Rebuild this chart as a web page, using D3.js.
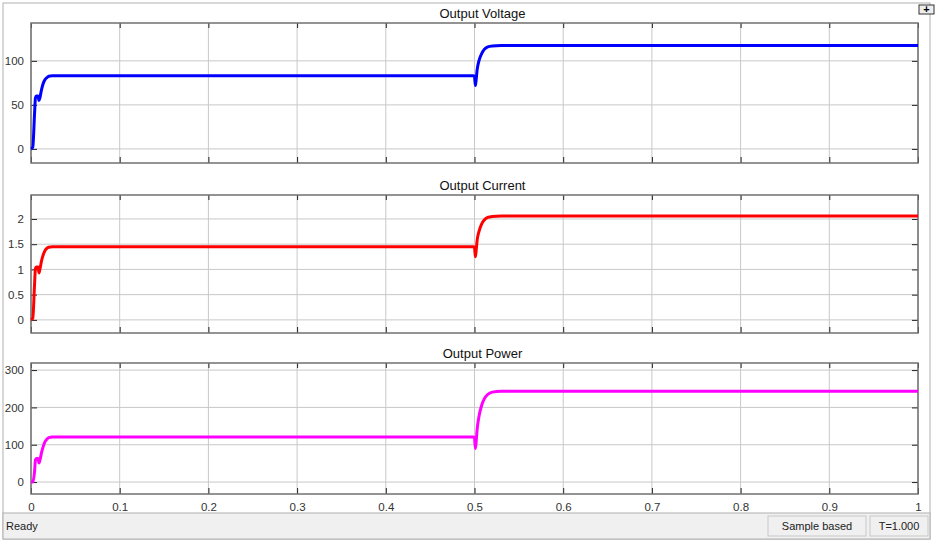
<!DOCTYPE html>
<html>
<head>
<meta charset="utf-8">
<script src="https://cdn.jsdelivr.net/npm/d3@7"></script>
<style>
body { margin: 0; background: #fff; font-family: "Liberation Sans", Arial, sans-serif; }
.grid line { stroke: #c8c8c8; stroke-width: 1; }
.tick text { fill: #333; font-size: 11.5px; }
</style>
</head>
<body>
<div id="scope"></div>
<script>
// scope window size
var svgWidth = 941;
var svgHeight = 541;

// data
var time = [0, 0.002, 0.004, 0.005, 0.006, 0.008, 0.009, 0.010, 0.012, 0.014, 0.016, 0.018, 0.020, 0.024, 0.03,
    0.1, 0.2, 0.3, 0.4, 0.499, 0.500, 0.501, 0.502, 0.503, 0.505, 0.508, 0.511, 0.515, 0.52, 0.53,
    0.6, 0.7, 0.8, 0.9, 1.0];

var voltage = [0, 2, 40, 58, 60, 60, 55, 58, 68, 75, 79, 81, 82.5, 83, 83,
    83, 83, 83, 83, 83, 82, 72, 80, 90, 100, 108, 113, 116, 117, 117.5,
    117.5, 117.5, 117.5, 117.5, 117.5];

var current = [0, 0.03, 0.7, 1.02, 1.05, 1.05, 0.93, 1.0, 1.18, 1.3, 1.38, 1.42, 1.44, 1.45, 1.45,
    1.45, 1.45, 1.45, 1.45, 1.45, 1.43, 1.25, 1.4, 1.58, 1.75, 1.9, 1.98, 2.03, 2.05, 2.06,
    2.06, 2.06, 2.06, 2.06, 2.06];

var power = [0, 0, 28, 59, 63, 63, 51, 58, 80, 97, 109, 115, 119, 121, 121,
    121, 121, 121, 121, 121, 118, 90, 112, 142, 175, 205, 223, 235, 241, 243,
    243, 243, 243, 243, 243];

var xTicks = [0, 0.1, 0.2, 0.3, 0.4, 0.5, 0.6, 0.7, 0.8, 0.9, 1];

var panels = [
    { title: "Output Voltage", values: voltage, color: "#0000ff", domain: [-16, 143], ticks: [0, 50, 100], top: 23, bottom: 163 },
    { title: "Output Current", values: current, color: "#ff0000", domain: [-0.26, 2.475], ticks: [0, 0.5, 1, 1.5, 2], top: 195, bottom: 333 },
    { title: "Output Power", values: power, color: "#ff00ff", domain: [-32, 319], ticks: [0, 100, 200, 300], top: 363, bottom: 494 }
];

var left = 31, right = 918;
var fmt = d3.format("~g");

var svg = d3.select("#scope")
    .append("svg")
    .attr("width", svgWidth)
    .attr("height", svgHeight);

// window frame
svg.append("rect")
    .attr("x", 3).attr("y", 3)
    .attr("width", 927).attr("height", 536)
    .attr("fill", "#fff")
    .attr("stroke", "#b0b0b0");

var xScale = d3.scaleLinear().domain([0, 1]).range([left, right]);

panels.forEach(function (p, i) {
    var yScale = d3.scaleLinear().domain(p.domain).range([p.bottom, p.top]);
    var g = svg.append("g");

    // grid
    g.append("g").attr("class", "grid")
        .selectAll("line").data(xTicks).enter().append("line")
        .attr("x1", d => xScale(d)).attr("x2", d => xScale(d))
        .attr("y1", p.top).attr("y2", p.bottom);
    g.append("g").attr("class", "grid")
        .selectAll("line").data(p.ticks).enter().append("line")
        .attr("x1", left).attr("x2", right)
        .attr("y1", d => yScale(d)).attr("y2", d => yScale(d));

    // axes with inward ticks
    var leftAxis = d3.axisLeft(yScale).tickValues(p.ticks).tickSize(-6).tickPadding(7).tickFormat(fmt);
    var rightAxis = d3.axisRight(yScale).tickValues(p.ticks).tickSize(-6).tickFormat("");
    var topAxis = d3.axisTop(xScale).tickValues(xTicks).tickSize(-5).tickFormat("");
    var bottomAxis = d3.axisBottom(xScale).tickValues(xTicks).tickSize(-6).tickPadding(9).tickFormat(fmt);
    if (i < 2) bottomAxis.tickFormat("");

    g.append("g").attr("transform", `translate(${left},0)`).call(leftAxis);
    g.append("g").attr("transform", `translate(${right},0)`).call(rightAxis);
    g.append("g").attr("transform", `translate(0,${p.top})`).call(topAxis);
    g.append("g").attr("transform", `translate(0,${p.bottom})`).call(bottomAxis);
    g.selectAll(".domain").remove();
    g.selectAll(".tick line").attr("stroke", "#222");

    // box
    g.append("rect")
        .attr("x", left).attr("y", p.top)
        .attr("width", right - left).attr("height", p.bottom - p.top)
        .attr("fill", "none")
        .attr("stroke", "#707070")
        .attr("stroke-width", 1.5);

    // trace
    var line = d3.line()
        .x((d, j) => xScale(time[j]))
        .y(d => yScale(d))
        .curve(d3.curveMonotoneX);
    g.append("path")
        .datum(p.values)
        .attr("fill", "none")
        .attr("stroke", p.color)
        .attr("stroke-width", 3)
        .attr("d", line);

    // title
    g.append("text")
        .attr("x", (left + right) / 2 + 8)
        .attr("y", p.top - 5)
        .attr("text-anchor", "middle")
        .attr("font-size", "13px")
        .attr("fill", "#111")
        .text(p.title);
});

// expand button
svg.append("rect").attr("x", 919).attr("y", 5).attr("width", 15).attr("height", 9)
    .attr("fill", "#eee").attr("stroke", "#333");
svg.append("text").attr("x", 926.5).attr("y", 13).attr("text-anchor", "middle")
    .attr("font-size", "11px").attr("font-weight", "bold").text("+");

// status bar
svg.append("rect").attr("x", 3).attr("y", 513).attr("width", 927).attr("height", 26)
    .attr("fill", "#f0f0f0").attr("stroke", "#b0b0b0");
svg.append("text").attr("x", 6).attr("y", 530).attr("font-size", "11px").attr("fill", "#222").text("Ready");
svg.append("rect").attr("x", 768).attr("y", 516).attr("width", 98).attr("height", 20)
    .attr("fill", "#f0f0f0").attr("stroke", "#c8c8c8");
svg.append("text").attr("x", 817).attr("y", 530).attr("text-anchor", "middle")
    .attr("font-size", "11px").attr("fill", "#222").text("Sample based");
svg.append("rect").attr("x", 870).attr("y", 516).attr("width", 58).attr("height", 20)
    .attr("fill", "#f0f0f0").attr("stroke", "#c8c8c8");
svg.append("text").attr("x", 899).attr("y", 530).attr("text-anchor", "middle")
    .attr("font-size", "11px").attr("fill", "#222").text("T=1.000");
</script>
</body>
</html>
